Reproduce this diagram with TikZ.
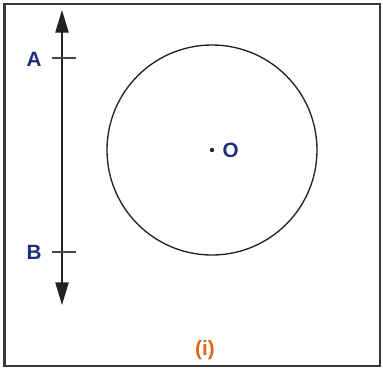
\documentclass[tikz,border=0pt]{standalone}
\usepackage{fontspec}
\setmainfont{Liberation Sans}
\usetikzlibrary{arrows.meta}
\definecolor{ink}{HTML}{222222}
\definecolor{lblue}{HTML}{1C2F7E}
\definecolor{lorange}{HTML}{D9661C}
\definecolor{tick}{HTML}{3A4A5A}
\tikzset{
  every node/.style={font=\fontsize{15.5}{17}\selectfont\bfseries},
  ptlabel/.style={text=lblue,inner sep=1pt},
  capt/.style={text=lorange,inner sep=1pt},
  axis/.style={{Triangle[length=17pt,width=10pt]}-{Triangle[length=17pt,width=10pt]},line width=1pt,draw=ink},
  tickmark/.style={line width=0.8pt,draw=tick},
}
\begin{document}
\begin{tikzpicture}[x=0.75pt,y=-0.75pt]
\useasboundingbox (0,0) rectangle (383,369);
\draw[line width=1.5pt,draw=ink!90] (4.5,3.5) rectangle (379.5,366);

% line with points A and B
\coordinate (top) at (62,10);
\coordinate (bot) at (62,305);
\draw[axis] (bot) -- (top);
\coordinate (a) at (62,58);
\coordinate (b) at (62,252);
\draw[tickmark] ([xshift=-7.5pt]a) -- ([xshift=10.5pt]a);
\draw[tickmark] ([xshift=-7.5pt]b) -- ([xshift=10.5pt]b);
\node[ptlabel] (la) at (34,59) {A};
\node[ptlabel] (lb) at (34,252) {B};

% circle with centre O
\coordinate (o) at (212,150);
\draw[line width=1pt,draw=ink] (o) circle (105);
\fill[ink] (o) circle (2.2);
\node[ptlabel,anchor=west] (lo) at (221,150) {O};

\node[capt] (cap) at (205,350) {(i)};
\end{tikzpicture}
\end{document}
